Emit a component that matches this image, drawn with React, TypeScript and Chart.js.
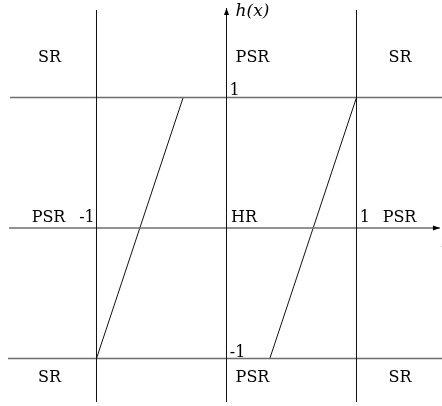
import React, { useEffect, useRef } from "react";
import { Chart, registerables } from "chart.js";

Chart.register(...registerables);

// Visible window of the (x, h) plane
const xRange = [-1.7423, 1.6577];
const yRange = [-1.364, 1.7471];

// Region boundaries
const boundaryXs = [-1, 1];
const boundaryYs = [1, -1];
const verticalSpan = [-1.333, 1.67];
const horizontalStart = [-1.665, -1.681];
const axisXStart = -1.673;
const axisXEnd = 1.642;
const axisYEnd = 1.686;

// h(x) ramp segments
const leftRampX = [-1, -1 / 3];
const leftRampY = [-1, 1];
const rightRampX = [1 / 3, 1];
const rightRampY = [-1, 1];

// Region names and tick labels
const labelTexts = ["SR", "PSR", "SR", "PSR", "-1", "HR", "1", "PSR", "1", "-1", "SR", "PSR", "SR"];
const labelXs = [-1.362, 0.2, 1.335, -1.369, -1.073, 0.135, 1.065, 1.331, 0.062, 0.085, -1.362, 0.2, 1.335];
const labelYs = [1.272, 1.272, 1.272, 0.046, 0.046, 0.046, 0.046, 0.046, 1.019, -0.989, -1.18, -1.18, -1.18];

const axisNames = ["h(x)", "x"];
const axisNameXs = [0.2, 1.65];
const axisNameYs = [1.625, -0.146];

const FONT = "16px 'DejaVu Serif'";
const ITALIC = "italic 17px 'DejaVu Serif'";

const seg = (xs: number[], ys: number[]) => xs.map((x, i) => ({ x, y: ys[i] }));

export default function App() {
  const ref = useRef<HTMLCanvasElement | null>(null);

  useEffect(() => {
    document.body.style.margin = "0";
    const canvas = ref.current;
    if (!canvas) return;

    const vLine = (x: number, top = verticalSpan[1]) => ({
      data: seg([x, x], [verticalSpan[0], top]),
      borderColor: "#111",
      borderWidth: 1,
    });
    const hLine = (y: number, start: number, end: number) => ({
      data: seg([start, end], [y, y]),
      borderColor: "#6e6e6e",
      borderWidth: 1.6,
    });

    const datasets = [
      vLine(boundaryXs[0]),
      vLine(boundaryXs[1]),
      vLine(0, axisYEnd),
      hLine(boundaryYs[0], horizontalStart[0], xRange[1]),
      hLine(boundaryYs[1], horizontalStart[1], xRange[1]),
      hLine(0, axisXStart, axisXEnd),
      { data: seg(leftRampX, leftRampY), borderColor: "#111", borderWidth: 1 },
      { data: seg(rightRampX, rightRampY), borderColor: "#111", borderWidth: 1 },
    ].map((d) => ({ ...d, showLine: true, pointRadius: 0, fill: false }));

    const annotate = {
      id: "annotate",
      afterDatasetsDraw(chart: any) {
        const { ctx, scales } = chart;
        const sx = scales.x;
        const sy = scales.y;
        ctx.save();
        ctx.fillStyle = "#000";

        // arrowheads on both axes
        const tx = sx.getPixelForValue(0);
        const ty = sy.getPixelForValue(axisYEnd);
        ctx.beginPath();
        ctx.moveTo(tx, ty);
        ctx.lineTo(tx - 2.5, ty + 7);
        ctx.lineTo(tx + 2.5, ty + 7);
        ctx.closePath();
        ctx.fill();

        const ax = sx.getPixelForValue(axisXEnd);
        const ay = sy.getPixelForValue(0);
        ctx.beginPath();
        ctx.moveTo(ax, ay);
        ctx.lineTo(ax - 7, ay - 2.5);
        ctx.lineTo(ax - 7, ay + 2.5);
        ctx.closePath();
        ctx.fill();

        ctx.textBaseline = "alphabetic";
        ctx.textAlign = "center";
        ctx.font = FONT;
        labelTexts.forEach((t, i) => {
          ctx.fillText(t, sx.getPixelForValue(labelXs[i]), sy.getPixelForValue(labelYs[i]));
        });

        ctx.font = ITALIC;
        ctx.fillText(axisNames[0], sx.getPixelForValue(axisNameXs[0]), sy.getPixelForValue(axisNameYs[0]));
        ctx.textAlign = "left";
        ctx.fillStyle = "#999";
        ctx.fillText(axisNames[1], sx.getPixelForValue(axisNameXs[1]), sy.getPixelForValue(axisNameYs[1]));
        ctx.restore();
      },
    };

    const chart = new Chart(canvas, {
      type: "scatter",
      data: { datasets: datasets as any },
      options: {
        animation: false,
        responsive: false,
        devicePixelRatio: 1,
        layout: { padding: 0 },
        plugins: { legend: { display: false }, tooltip: { enabled: false } },
        scales: {
          x: { type: "linear", min: xRange[0], max: xRange[1], display: false },
          y: { type: "linear", min: yRange[0], max: yRange[1], display: false },
        },
      },
      plugins: [annotate],
    });

    return () => chart.destroy();
  }, []);

  return (
    <div style={{ width: 442, height: 406, background: "#fff" }}>
      <canvas ref={ref} width={442} height={406} />
    </div>
  );
}
